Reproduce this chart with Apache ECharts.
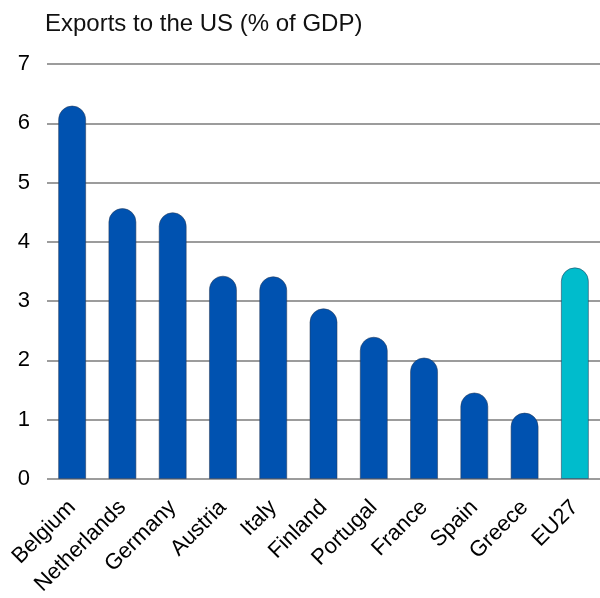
<!DOCTYPE html>
<html>
<head>
<meta charset="utf-8">
<script src="https://cdn.jsdelivr.net/npm/echarts@6/dist/echarts.min.js"></script>
<style>
html,body{margin:0;padding:0;background:#fff;}
#main{width:600px;height:598px;}
</style>
</head>
<body>
<div id="main"></div>
<script>
const categories = ['Belgium','Netherlands','Germany','Austria','Italy','Finland','Portugal','France','Spain','Greece','EU27'];
const values = [6.3, 4.57, 4.5, 3.43, 3.42, 2.88, 2.4, 2.05, 1.46, 1.12, 3.57];
const highlightCategory = 'EU27';
const yTicks = [0,1,2,3,4,5,6,7];

const chart = echarts.init(document.getElementById('main'), null, {renderer:'canvas'});
const font = '"Liberation Sans", Arial, sans-serif';
chart.setOption({
  animation:false,
  backgroundColor:'#fff',
  title:{
    text:'Exports to the US (% of GDP)',
    left:40, top:7,
    textStyle:{fontFamily:font, fontSize:24, fontWeight:'normal', color:'#111'}
  },
  grid:{left:47, right:0, top:64, bottom:119, containLabel:false, outerBoundsMode:'none'},
  xAxis:{
    type:'category',
    data:categories,
    axisLine:{show:false},
    axisTick:{show:false},
    axisLabel:{rotate:45, fontFamily:font, fontSize:22, color:'#000', margin:25, interval:0}
  },
  yAxis:{
    type:'value',
    min:yTicks[0], max:yTicks[yTicks.length-1], interval:1,
    axisLine:{show:false},
    axisTick:{show:false},
    axisLabel:{fontFamily:font, fontSize:22, color:'#000', margin:17},
    splitLine:{lineStyle:{color:'#9c9c9c', width:2}}
  },
  series:[{
    type:'bar',
    data:values.map((v,i)=>({
      value:v,
      itemStyle:{color: categories[i]===highlightCategory ? '#00bccc' : '#0052b0'}
    })),
    barWidth:28,
    itemStyle:{borderRadius:[14,14,0,0], borderColor:'rgba(40,60,90,0.55)', borderWidth:1}
  }]
});
</script>
</body>
</html>
